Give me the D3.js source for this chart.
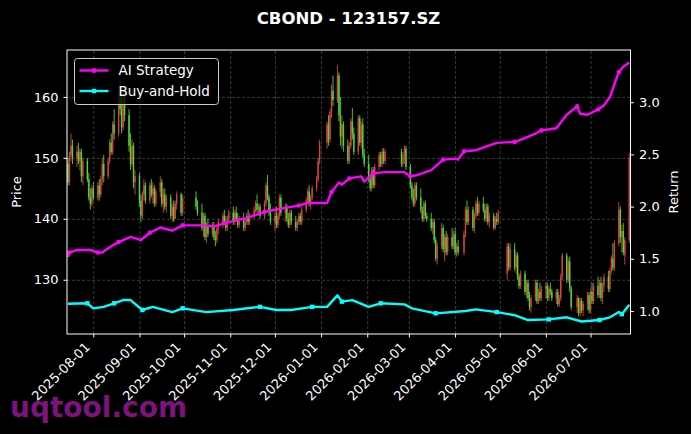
<!DOCTYPE html>
<html lang="en">
<head>
<meta charset="UTF-8">
<title>CBOND - 123157.SZ</title>
<script src="https://d3js.org/d3.v7.min.js"></script>
<style>
  body { margin: 0; background: #000; }
  svg text { font-family: "DejaVu Sans", sans-serif; fill: #fff; }
  .grid line { stroke: #4a4a4a; stroke-width: 0.8; stroke-dasharray: 3,2; }
  .grid .domain { stroke: none; }
  .axis .domain, .axis line { stroke: #fff; }
  .axis text { font-size: 13px; }
</style>
</head>
<body>
<svg class="chart" width="691" height="434"></svg>
<script>
  // trading calendar (weekdays minus exchange holidays)
  const firstDay = '2025-07-15';
  const lastDay = '2026-07-27';
  const holidays = ['2025-10-01', '2025-10-02', '2025-10-03', '2025-10-06', '2025-10-07', '2025-10-08',
    '2026-01-01', '2026-01-02', '2026-02-16', '2026-02-17', '2026-02-18', '2026-02-19', '2026-02-20',
    '2026-02-23', '2026-04-06', '2026-05-01', '2026-05-04', '2026-05-05', '2026-06-19'];

  // daily OHLC, one line per week
  const opens = [
    149, 146, 150.5, 152,
    150, 151, 149.5, 151, 147,
    149.5, 146.5, 143.5, 142.5, 145,
    143.5, 145.5, 144, 146.5, 149,
    147, 149.5, 152.5, 151, 155.5,
    154, 160, 158, 155, 160,
    157, 152, 149, 152, 146,
    147, 143, 140.5, 144, 145.5,
    143, 145.5, 144, 145, 142.5,
    144.5, 146, 142.5, 144, 142,
    143.5, 140.5, 142, 140, 142.5,
    144, 141,
    143.5, 142,
    141, 138.5, 140.5, 137, 139,
    137.5, 139, 137, 136.5, 138.5,
    139.5, 140.5, 139.5, 138.5, 140,
    141, 139.5, 141, 140, 139,
    140, 138.5, 139.5, 140.5, 139.5,
    140.5, 141.5, 142.5, 141.5, 142,
    140.5, 142.5, 145.5, 143.5, 141,
    139.5, 140.5, 139, 140.5, 143.5,
    141, 142, 140, 139, 141,
    139.5, 138.5, 139.5, 140.5, 139.5,
    141.5, 143, 144.5, 142.5, 143.5,
    145, 146.5, 149.5,
    152.5, 155.5, 153, 157.5, 161,
    159.5, 163.5, 157, 153.5, 155.5,
    152, 149.5, 152, 156, 154,
    151, 156.5, 152.5, 155.5, 150.5,
    149, 146.5, 145, 148, 145.5,
    148.5, 150.5, 149, 151, 149.5,
    151, 149, 150.5, 151.5,
    148.5, 145.5, 143.5, 142.5, 145.5,
    143.5, 141.5, 140, 142.5, 140.5,
    140, 138.5, 139.5, 136.5, 133.5,
    135.5, 138.5, 135, 137, 134.5,
    137, 135.5, 137.5, 134.5, 135.5,
    134.5, 137.5, 141.5, 139.5,
    141.5, 138.5, 140.5, 142.5, 141,
    142.5, 141.5, 140, 142, 139.5,
    140.5, 138.5, 140, 139.5,
    131, 135.5, 132,
    135, 132, 134, 130.5, 129,
    131, 128, 129.5, 127, 125.5,
    127, 129.5, 126.5, 128, 127,
    128.5, 129, 127, 128.5, 128,
    127, 128, 126, 127, 130.5,
    134, 130, 133, 128.5,
    125.5, 127, 124.5, 126.5, 125,
    126, 127.5, 125, 128, 126.5,
    129, 127.5, 129.5, 127, 129,
    130.5, 128.5, 131.5, 133.5, 132,
    136, 141.5, 137, 138, 134,
    136.5
  ];
  const highs = [
    150, 151, 154, 153,
    152, 152.5, 151.5, 151.5, 150,
    150, 147.5, 145, 145.5, 146,
    146, 146.5, 147, 150, 150.5,
    150, 153, 154, 156, 158,
    161, 163, 160.5, 161, 162,
    158, 154, 153, 152.5, 148,
    147.5, 144, 144.5, 146.5, 146,
    146, 146.5, 146, 145.5, 145,
    147, 146.5, 145, 145, 144,
    144, 142.5, 143, 143, 144.5,
    144.3, 144,
    144.5, 143,
    142.5, 141, 141, 139.5, 140,
    139.5, 139.5, 138, 139, 140,
    141, 141.5, 140.5, 140.5, 141.5,
    142, 141.5, 142, 141, 140.5,
    141, 140, 141, 141.5, 141,
    142, 143, 144, 142.5, 142.5,
    143, 146, 147.2, 144, 142.5,
    141, 142, 141, 144, 144,
    142.5, 142.5, 141, 141.5, 141.5,
    140.5, 140, 141, 141, 142,
    143.5, 145, 145.5, 144, 145.5,
    147, 150, 153,
    156, 157, 158, 162, 163.5,
    165.2, 164, 160, 157, 156,
    153, 152.5, 156.5, 158.2, 155,
    157, 157, 156, 156.5, 151.5,
    150.5, 147, 148.5, 148.5, 149,
    151, 151, 151.5, 151.6, 151.5,
    151.5, 151, 152, 152,
    149, 146, 145, 146, 146,
    145, 142, 143, 143, 141,
    141, 140, 140, 137, 136,
    139.3, 139, 137.5, 138, 137.5,
    138.5, 138, 138.5, 136, 136.5,
    138, 142, 143, 142,
    142, 141, 143, 143.6, 143,
    143.6, 142.5, 142.5, 142.5, 141,
    141, 140.5, 141, 141.5,
    136, 136, 136,
    136, 134.5, 134.5, 131, 131.5,
    131.5, 130, 130, 128, 127.5,
    130, 130, 128.5, 129.5, 129,
    129.5, 129.5, 129, 129.5, 128.5,
    128.5, 128.5, 127.5, 131, 134.4,
    134.4, 133.5, 133.8, 129,
    127.5, 127.2, 127, 127, 126.5,
    128, 128, 128.5, 129.5, 129.5,
    130.5, 130, 130.5, 129.5, 131,
    131.5, 132, 134, 136, 136.5,
    142.8, 142, 139, 139.3, 137,
    150.8
  ];
  const lows = [
    145.5, 145.5, 149.5, 149,
    148.5, 149, 148, 146, 145.5,
    146, 143, 141.5, 142, 143,
    143, 143, 143.5, 145.5, 146,
    146.5, 149, 150.5, 150.5, 153,
    153.5, 157, 154, 154.5, 156,
    151, 148, 148.5, 145, 144,
    142, 139.5, 140, 143, 142.5,
    142.5, 143.5, 142.5, 142, 142,
    143.5, 142, 141, 141.5, 141,
    140, 139.5, 139.5, 140, 141.5,
    140.5, 140.5,
    141.5, 140.5,
    138, 137, 136.5, 136, 137,
    137, 136.5, 135.5, 136, 137.5,
    138.5, 139, 138, 138, 139.5,
    139, 139, 139.5, 138.5, 138.5,
    138, 138, 139, 139, 139,
    140, 141, 141, 140.5, 140,
    140, 142, 143, 140.5, 139,
    138, 138.5, 138.5, 140, 140.5,
    139.5, 139.5, 138.5, 138.5, 139,
    138, 138, 139, 139, 139,
    141, 142.5, 142, 141.5, 143,
    144.5, 146, 149,
    151.5, 152, 152.5, 156.5, 158.5,
    159, 156, 152, 151.5, 151,
    149, 149, 151.5, 153, 150.5,
    150.5, 152, 151.5, 150, 148.5,
    146, 144.5, 144.5, 145, 145,
    148, 148.5, 148.5, 149, 149,
    148.5, 148.5, 149, 148,
    145, 143, 142, 142, 143,
    141, 139.5, 139.5, 140, 139.5,
    138, 137.5, 136, 133, 132.5,
    135, 134.5, 133, 134, 134,
    135, 135, 134, 133.8, 134,
    134, 137, 139, 139,
    138, 137.7, 140, 140.5, 140.5,
    141, 139.5, 139.5, 139, 138.5,
    138.2, 138.2, 139, 139,
    130, 131.5, 131.5,
    131.5, 131, 130, 128.5, 128.5,
    127.5, 127, 126.5, 125, 124.6,
    126.5, 126, 126, 126.5, 126.5,
    127, 126.5, 126.5, 127.5, 126.5,
    126, 125.6, 125.6, 126.5, 130,
    129.5, 129.5, 128, 125,
    124.5, 124, 124, 124.5, 124,
    125, 124.5, 124.5, 126, 126,
    127, 127, 126.5, 126, 128,
    128, 128, 131, 131.5, 131.5,
    135.5, 136, 134.5, 134, 132.5,
    136
  ];
  const closes = [
    146, 150.5, 152, 150,
    151, 149.5, 151, 147, 149.5,
    146.5, 143.5, 142.5, 145, 143.5,
    145.5, 144, 146.5, 149, 147,
    149.5, 152.5, 151, 155.5, 154,
    160, 158, 155, 160, 157,
    152, 149, 152, 146, 147,
    143, 140.5, 144, 145.5, 143,
    145.5, 144, 145, 142.5, 144.5,
    146, 142.5, 144, 142, 143.5,
    140.5, 142, 140, 142.5, 144,
    141, 143.5,
    142, 141,
    138.5, 140.5, 137, 139, 137.5,
    139, 137, 136.5, 138.5, 139.5,
    140.5, 139.5, 138.5, 140, 141,
    139.5, 141, 140, 139, 140,
    138.5, 139.5, 140.5, 139.5, 140.5,
    141.5, 142.5, 141.5, 142, 140.5,
    142.5, 145.5, 143.5, 141, 139.5,
    140.5, 139, 140.5, 143.5, 141,
    142, 140, 139, 141, 139.5,
    138.5, 139.5, 140.5, 139.5, 141.5,
    143, 144.5, 142.5, 143.5, 145,
    146.5, 149.5, 152.5,
    155.5, 153, 157.5, 161, 159.5,
    163.5, 157, 153.5, 155.5, 152,
    149.5, 152, 156, 154, 151,
    156.5, 152.5, 155.5, 150.5, 149,
    146.5, 145, 148, 145.5, 148.5,
    150.5, 149, 151, 149.5, 151,
    149, 150.5, 151.5, 148.5,
    145.5, 143.5, 142.5, 145.5, 143.5,
    141.5, 140, 142.5, 140.5, 140,
    138.5, 139.5, 136.5, 133.5, 135.5,
    138.5, 135, 137, 134.5, 137,
    135.5, 137.5, 134.5, 135.5, 134.5,
    137.5, 141.5, 139.5, 141.5,
    138.5, 140.5, 142.5, 141, 142.5,
    141.5, 140, 142, 139.5, 140.5,
    138.5, 140, 139.5, 141,
    135.5, 132, 135,
    132, 134, 130.5, 129, 131,
    128, 129.5, 127, 125.5, 127,
    129.5, 126.5, 128, 127, 128.5,
    129, 127, 128.5, 128, 127,
    128, 126, 127, 130.5, 134,
    130, 133, 128.5, 125.5,
    127, 124.5, 126.5, 125, 126,
    127.5, 125, 128, 126.5, 129,
    127.5, 129.5, 127, 129, 130.5,
    128.5, 131.5, 133.5, 132, 136,
    141.5, 137, 138, 134.5, 136.5,
    150
  ];

  // return curves (right axis)
  const stratDates = ['2025-07-15', '2025-07-16', '2025-07-21', '2025-07-30', '2025-08-04', '2025-08-07', '2025-08-13',
    '2025-08-18', '2025-08-26', '2025-09-02', '2025-09-08', '2025-09-15', '2025-09-23', '2025-09-30', '2025-10-14',
    '2025-10-21', '2025-10-28', '2025-11-05', '2025-11-12', '2025-11-24', '2025-12-01', '2025-12-09', '2025-12-17',
    '2025-12-23', '2026-01-05', '2026-01-08', '2026-01-13', '2026-01-15', '2026-01-20', '2026-01-28', '2026-01-30',
    '2026-02-05', '2026-02-13', '2026-02-26', '2026-03-02', '2026-03-06', '2026-03-16', '2026-03-24', '2026-04-01',
    '2026-04-03', '2026-04-07', '2026-04-15', '2026-04-29', '2026-05-11', '2026-05-15', '2026-05-25', '2026-05-29',
    '2026-06-08', '2026-06-15', '2026-06-22', '2026-06-24', '2026-06-29', '2026-07-06', '2026-07-10', '2026-07-14',
    '2026-07-20', '2026-07-23', '2026-07-27'];
  const stratValues = [1.52, 1.56, 1.585, 1.585, 1.56, 1.56, 1.62, 1.66, 1.71, 1.68,
    1.75, 1.80, 1.77, 1.82, 1.82, 1.81, 1.84, 1.87, 1.89, 1.95,
    1.97, 1.99, 2.01, 2.035, 2.035, 2.14, 2.23, 2.21, 2.27, 2.29,
    2.24, 2.32, 2.33, 2.33, 2.29, 2.30, 2.35, 2.45, 2.46, 2.45,
    2.53, 2.54, 2.61, 2.62, 2.64, 2.70, 2.73, 2.75, 2.88, 2.96,
    2.89, 2.88, 2.93, 2.97, 3.05, 3.29, 3.34, 3.38];
  const bhDates = ['2025-07-15', '2025-07-28', '2025-08-01', '2025-08-08', '2025-08-15', '2025-08-21', '2025-08-26',
    '2025-09-03', '2025-09-10', '2025-09-23', '2025-09-30', '2025-10-16', '2025-11-03', '2025-11-21', '2025-12-02',
    '2025-12-12', '2025-12-26', '2026-01-05', '2026-01-12', '2026-01-15', '2026-01-22', '2026-02-02', '2026-02-10',
    '2026-02-26', '2026-03-03', '2026-03-19', '2026-04-08', '2026-04-15', '2026-04-29', '2026-05-11', '2026-05-20',
    '2026-06-03', '2026-06-15', '2026-06-25', '2026-07-07', '2026-07-14', '2026-07-20', '2026-07-22', '2026-07-27'];
  const bhValues = [1.07, 1.074, 1.026, 1.04, 1.074, 1.105, 1.105, 1.01, 1.04, 0.99,
    1.026, 0.99, 1.01, 1.04, 1.01, 1.01, 1.04, 1.04, 1.15, 1.09,
    1.105, 1.04, 1.074, 1.064, 1.026, 0.978, 1.0, 1.016, 0.99, 0.96,
    0.914, 0.92, 0.94, 0.90, 0.914, 0.94, 0.99, 0.97, 1.06];

  const monthTicks = ['2025-08-01', '2025-09-01', '2025-10-01', '2025-11-01', '2025-12-01', '2026-01-01',
    '2026-02-01', '2026-03-01', '2026-04-01', '2026-05-01', '2026-06-01', '2026-07-01'];
  const priceTicks = [130, 140, 150, 160];
  const returnTicks = [1.0, 1.5, 2.0, 2.5, 3.0];

  const svg = d3.select('svg.chart');
  const width = +svg.attr('width');
  const height = +svg.attr('height');
  const margins = { top: 50, right: 60.5, bottom: 100, left: 67 };
  const chartWidth = width - margins.left - margins.right;
  const chartHeight = height - margins.top - margins.bottom;

  const parse = d3.timeParse('%Y-%m-%d');
  const fmt = d3.timeFormat('%Y-%m-%d');

  const days = d3.timeDays(parse(firstDay), d3.timeDay.offset(parse(lastDay), 1))
    .filter(d => d.getDay() !== 0 && d.getDay() !== 6 && !holidays.includes(fmt(d)));

  const candles = days.slice(0, opens.length).map((d, i) => ({
    date: d, o: opens[i], h: highs[i], l: lows[i], c: closes[i]
  }));

  svg.append('rect').attr('width', width).attr('height', height).attr('fill', '#000');

  // watermark sits under the tick labels
  svg.append('text')
    .attr('x', 10).attr('y', 417)
    .style('font-size', '28px').style('font-weight', 'bold')
    .style('fill', '#8c148c').style('opacity', 0.9)
    .text('uqtool.com');

  const xStart = d3.timeHour.offset(parse(firstDay), -16);
  const xEnd = d3.timeHour.offset(parse(lastDay), 20);
  const xScale = d3.scaleTime().domain([xStart, xEnd]).range([0, chartWidth]);
  const yScale = d3.scaleLinear().domain([121.1, 167.7]).range([chartHeight, 0]);
  const rScale = d3.scaleLinear().domain([0.78, 3.5]).range([chartHeight, 0]);

  const chartArea = svg.append('g')
    .attr('transform', `translate(${margins.left},${margins.top})`);

  svg.append('clipPath').attr('id', 'plotclip')
    .append('rect').attr('width', chartWidth).attr('height', chartHeight);

  // gridlines
  chartArea.append('g')
    .attr('class', 'grid')
    .attr('transform', `translate(0,${chartHeight})`)
    .call(d3.axisBottom(xScale).tickValues(monthTicks.map(parse)).tickSize(-chartHeight).tickFormat(''));
  chartArea.append('g')
    .attr('class', 'grid')
    .call(d3.axisLeft(yScale).tickValues(priceTicks).tickSize(-chartWidth).tickFormat(''));

  const plot = chartArea.append('g').attr('clip-path', 'url(#plotclip)');

  // candlesticks: red up, green down
  const upColor = '#ff4d4d';
  const downColor = '#5cff3a';
  const cg = plot.append('g').attr('opacity', 0.85);
  candles.forEach(d => {
    const cx = xScale(d.date);
    const col = d.c >= d.o ? upColor : downColor;
    cg.append('line')
      .attr('x1', cx).attr('x2', cx)
      .attr('y1', yScale(d.h)).attr('y2', yScale(d.l))
      .attr('stroke', col).attr('stroke-width', 0.9);
    const top = yScale(Math.max(d.o, d.c));
    const bot = yScale(Math.min(d.o, d.c));
    cg.append('rect')
      .attr('x', cx - 0.7).attr('width', 1.4)
      .attr('y', top).attr('height', Math.max(0.8, bot - top))
      .attr('fill', col);
  });

  // return lines
  const lineGen = d3.line().x(d => xScale(d[0])).y(d => rScale(d[1]));
  const stratPts = stratDates.map((d, i) => [parse(d), stratValues[i]]);
  const bhPts = bhDates.map((d, i) => [parse(d), bhValues[i]]);

  plot.append('path').datum(bhPts)
    .attr('d', lineGen).attr('fill', 'none')
    .attr('stroke', '#00ffff').attr('stroke-width', 2.4).attr('stroke-linejoin', 'round');
  bhPts.filter((d, i) => i % 3 === 1).forEach(d => {
    plot.append('rect')
      .attr('x', xScale(d[0]) - 2.2).attr('y', rScale(d[1]) - 2.2)
      .attr('width', 4.4).attr('height', 4.4).attr('fill', '#00ffff');
  });

  plot.append('path').datum(stratPts)
    .attr('d', lineGen).attr('fill', 'none')
    .attr('stroke', '#ff00ff').attr('stroke-width', 2.4).attr('stroke-linejoin', 'round');
  stratPts.filter((d, i) => i % 3 === 1).forEach(d => {
    plot.append('circle')
      .attr('cx', xScale(d[0])).attr('cy', rScale(d[1]))
      .attr('r', 2.3).attr('fill', '#ff00ff');
  });

  // axes
  const bottomAxis = chartArea.append('g')
    .attr('class', 'axis')
    .attr('transform', `translate(0,${chartHeight})`)
    .call(d3.axisBottom(xScale).tickValues(monthTicks.map(parse)).tickSize(3.5).tickFormat(fmt));
  bottomAxis.selectAll('.tick text')
    .attr('x', 0).attr('y', 0).attr('dy', 0)
    .attr('transform', 'translate(-3,14) rotate(-45)')
    .style('text-anchor', 'end');

  chartArea.append('g')
    .attr('class', 'axis')
    .call(d3.axisLeft(yScale).tickValues(priceTicks).tickSize(3.5).tickPadding(5));

  chartArea.append('g')
    .attr('class', 'axis')
    .attr('transform', `translate(${chartWidth},0)`)
    .call(d3.axisRight(rScale).tickValues(returnTicks).tickSize(3.5).tickPadding(5).tickFormat(d3.format('.1f')));

  chartArea.selectAll('.axis .domain').remove();
  chartArea.append('rect')
    .attr('width', chartWidth).attr('height', chartHeight)
    .attr('fill', 'none').attr('stroke', '#fff').attr('stroke-width', 1);

  // axis titles
  svg.append('text')
    .attr('transform', `translate(21,${margins.top + chartHeight / 2}) rotate(-90)`)
    .style('text-anchor', 'middle').style('font-size', '13px')
    .text('Price');
  svg.append('text')
    .attr('transform', `translate(678,${margins.top + chartHeight / 2}) rotate(-90)`)
    .style('text-anchor', 'middle').style('font-size', '13px')
    .text('Return');

  svg.append('text')
    .attr('x', width / 2 + 3).attr('y', 24)
    .style('text-anchor', 'middle').style('font-size', '16.5px').style('font-weight', 'bold')
    .text('CBOND - 123157.SZ');

  // legend
  const legend = svg.append('g').attr('transform', 'translate(74.5,58.5)');
  legend.append('rect')
    .attr('width', 144).attr('height', 46).attr('rx', 3)
    .attr('fill', '#000').attr('fill-opacity', 0.8)
    .attr('stroke', '#cccccc').attr('stroke-width', 1);
  const legendItems = [
    { label: 'AI Strategy', color: '#ff00ff', shape: 'circle' },
    { label: 'Buy-and-Hold', color: '#00ffff', shape: 'square' }
  ];
  legendItems.forEach((item, i) => {
    const ly = 12 + i * 20.5;
    legend.append('line')
      .attr('x1', 5).attr('x2', 34).attr('y1', ly).attr('y2', ly)
      .attr('stroke', item.color).attr('stroke-width', 2.4);
    if (item.shape === 'circle') {
      legend.append('circle').attr('cx', 19.5).attr('cy', ly).attr('r', 2.5).attr('fill', item.color);
    } else {
      legend.append('rect').attr('x', 17.3).attr('y', ly - 2.2).attr('width', 4.4).attr('height', 4.4).attr('fill', item.color);
    }
    legend.append('text')
      .attr('x', 44).attr('y', ly + 4.8)
      .style('font-size', '13.5px')
      .text(item.label);
  });
</script>
</body>
</html>
